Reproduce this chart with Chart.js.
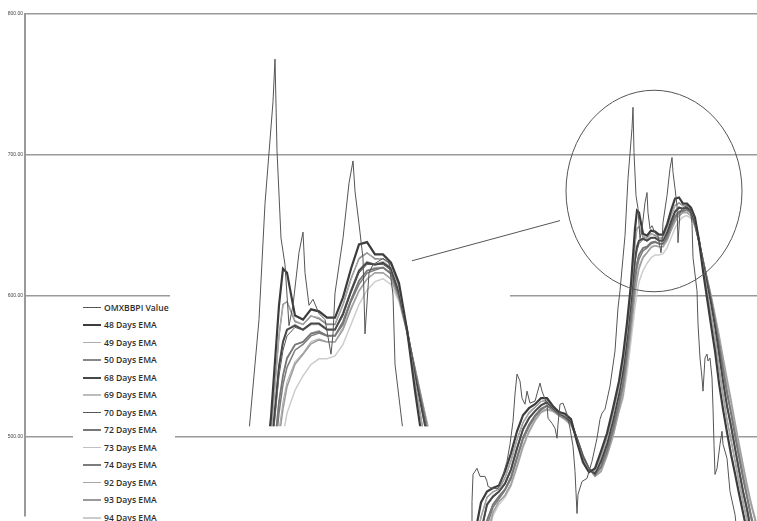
<!DOCTYPE html>
<html><head><meta charset="utf-8">
<script src="https://cdn.jsdelivr.net/npm/chart.js@4/dist/chart.umd.min.js"></script>
<style>
html,body{margin:0;padding:0;background:#fff;}
#wrap{position:relative;width:757px;height:521px;overflow:hidden;}
#legend{position:absolute;left:73px;top:299px;width:102px;height:222px;background:#fff;font-family:"Open Sans",Lato,sans-serif;font-weight:600;font-size:8.6px;color:#2e2e2e;}
.item{height:17.5px;display:flex;align-items:center;padding-left:10px;white-space:nowrap;}
.swatch{width:18px;margin-right:3px;flex:none;}
</style></head><body>
<div id="wrap"><canvas id="c" width="757" height="521"></canvas><div id="legend"></div></div>
<script>
// ---- data ----
const seriesLabels = ["OMXBBPI Value","48 Days EMA","49 Days EMA","50 Days EMA","68 Days EMA","69 Days EMA","70 Days EMA","72 Days EMA","73 Days EMA","74 Days EMA","92 Days EMA","93 Days EMA","94 Days EMA"];
const yTicks = [500,600,700,800];

const valueDays = [223,223.5,224,226,227.5,230,231,231.5,233.5,236.5,238.5,241,242.5,244,245,246,247.5,248.5,250,251,252.5,255,257.5,258.5,261,261.5,263.5,265,266,266.5,267.5,269,271,272.5,274,275,276,276.5,278.5,281,283.5,286,287.5,288.5,290,292.5,295,296.5,297.5,299,300,301.5,303.5,304,304.5,305.5,306.5,307.5,308.5,310,311,311.5,312.5,313.5,315,316.5,318,318.5,319,321,322.5,323.5,324,325,326,326.5,327.5,328.5,331,332.5,333.5,334,336,336.5,337.5,338.5,339,340,341,341.5,342.5,343.5,344,344.5,345,346,347.5,348.5,349,351,352.5,355,356.5];
const omxValues = [425.6,454.1,473.3,477.6,471.9,471.9,468.3,464.8,463.4,463.4,470.5,482.6,494.7,511.0,530.3,544.5,539.5,527.4,523.1,532.4,523.9,525.3,538.1,532.4,523.1,513.2,509.6,506.1,499.0,508.9,523.1,523.9,516.0,506.1,493.3,475.5,445.6,459.1,468.3,470.5,482.6,499.0,512.5,516.7,519.6,536.0,560.9,591.5,603.6,627.1,642.7,683.3,718.9,733.8,701.8,671.2,661.9,640.6,647.7,666.2,673.3,659.1,647.7,649.8,644.8,642.7,630.6,637.7,652.0,671.2,690.4,698.2,687.6,676.2,664.1,637.7,659.1,661.9,664.1,662.6,651.3,627.1,603.6,580.1,555.9,541.7,532.4,555.9,558.7,553.8,555.9,541.7,520.3,494.7,473.3,477.6,494.7,503.9,494.7,484.7,461.2,444.9,425.6];

const emaDays = [225,228,231,234,237,240,243,246,249,252,255,258,261,264,267,270,273,276,279,282,285,288,291,294,297,299,301,303,305,306,307,309,311,313,315,317,319,321,323,325,327,329,331,333,335,337,339,341,343,345,347,349,351,353,355,357,359,361,363,365,367];
const ema48 = [431.3,453.4,461.2,463.7,465.5,475.5,488.3,503.9,515.3,520.3,523.1,527.4,527.4,521.7,517.5,516.4,512.5,496.1,481.9,474.8,477.6,489.7,502.5,520.3,539.5,557.3,580.8,608.6,647.7,660.5,659.1,644.1,642.7,646.3,645.6,643.4,643.4,650.5,660.5,669.0,669.8,665.5,665.5,662.6,655.5,639.2,617.8,598.6,579.4,560.9,538.1,519.6,503.2,487.6,474.0,459.8,446.3,432.8,418.5,404.3,390.1];
const ema49 = [421.4,443.1,456.6,460.7,463.4,471.2,482.6,497.9,510.4,516.8,520.7,524.9,526.0,521.0,517.0,515.4,511.8,497.2,483.7,475.9,475.8,486.2,498.6,515.7,534.9,552.0,575.1,602.6,637.0,647.7,649.2,642.4,641.0,643.8,643.5,641.3,641.3,647.7,656.6,664.4,666.2,663.7,664.1,661.6,653.8,639.2,620.7,604.0,587.2,569.8,548.8,529.6,512.5,497.6,482.9,468.0,453.8,440.6,425.7,411.4,397.2];
const ema50 = [421,443,457,461,463,471,483,498,510,517,521,525,526,521,517,515,512,497,484,476,476,486,499,516,535,552,575,603,637,648,649,642,641,644,643,641,641,648,657,664,666,664,664,662,654,639,621,604,587,570,549,530,512,498,483,468,454,441,426,411,397];
const ema68 = [411.4,432.8,452.0,457.7,461.2,466.9,476.9,491.8,505.4,513.2,518.2,522.4,524.6,520.3,516.4,514.3,511.0,498.2,485.4,476.9,474.0,482.6,494.7,511.0,530.3,546.6,569.4,596.5,626.3,634.9,639.2,640.6,639.2,641.3,641.3,639.2,639.2,644.8,652.7,659.8,662.6,661.9,662.6,660.5,652.0,639.2,623.5,609.3,595.0,578.7,559.4,539.5,521.7,507.5,491.8,476.2,461.2,448.4,432.8,418.5,404.3];
const ema69 = [411,433,452,458,461,467,477,492,505,513,518,522,525,520,516,514,511,498,485,477,474,483,495,511,530,547,569,597,626,635,639,641,639,641,641,639,639,645,653,660,663,662,663,661,652,639,624,609,595,579,559,540,522,508,492,476,461,448,433,419,404];
const ema70 = [410,432,451,457,461,466,476,491,505,513,518,522,524,520,516,514,511,498,485,477,474,482,494,510,529,545,567,594,623,632,637,640,639,641,641,639,639,644,652,659,662,662,662,660,652,639,624,610,596,580,561,541,523,509,493,478,463,450,435,421,407];
const ema72 = [400.8,420.4,440.6,452.0,457.7,462.7,471.6,485.4,499.4,508.6,515.0,520.0,522.1,519.3,515.7,513.4,509.8,498.6,486.2,477.3,473.0,479.1,490.8,505.7,524.3,538.1,560.5,585.8,613.9,623.2,629.2,633.9,634.9,637.8,638.5,637.1,637.1,642.0,649.5,656.3,659.8,660.5,660.9,658.7,650.9,638.8,624.6,611.1,597.5,582.3,565.5,547.7,531.0,516.4,500.7,485.5,470.5,457.0,442.8,430.3,416.8];
const ema73 = [401,420,441,452,458,463,472,485,499,509,515,520,522,519,516,513,510,499,486,477,473,479,491,506,524,538,561,586,614,623,629,634,635,638,639,637,637,642,650,656,660,661,661,659,651,639,625,611,598,582,566,548,531,516,501,486,471,457,443,430,417];
const ema74 = [398,417,437,450,456,462,470,484,498,507,514,519,522,519,516,513,510,499,486,477,473,478,489,504,522,536,558,582,610,620,626,632,634,637,638,637,637,641,649,655,659,660,661,659,651,639,625,612,598,583,567,550,533,518,503,488,473,459,445,433,420];
const ema92 = [391,409,430,447,454,459,467,480,494,504,512,518,520,518,515,513,509,499,487,478,472,476,488,501,519,531,553,577,604,614,621,628,631,635,636,635,635,640,647,653,657,659,659,657,650,638,626,613,600,586,571,555,539,524,508,493,478,464,451,440,428];
const ema93 = [390.1,407.9,429.2,446.3,454.1,458.4,466.2,479.0,493.3,503.9,511.8,517.5,519.6,518.2,515.0,512.5,508.6,499.0,486.9,477.6,471.9,475.5,486.9,500.4,518.2,529.6,551.6,575.1,601.4,611.4,619.2,627.1,630.6,634.2,635.6,634.9,634.9,639.2,646.3,652.7,656.9,659.1,659.1,656.9,649.8,638.4,625.6,612.8,600.0,585.8,571.5,555.9,540.2,525.3,509.6,494.7,479.7,465.5,452.7,442.0,429.2];
const ema94 = [388,405,427,444,452,457,465,478,492,503,511,517,519,518,515,512,508,499,487,478,472,475,486,500,518,527,545,568,592,602,610,618,623,627,629,629,630,634,641,648,653,656,657,655,649,638,626,613,601,587,573,557,542,527,511,496,481,467,454,443,431];

// annotation positions in data units (days, index value)
const zoomEllipse = {day: 314.5, value: 674.4, rDays: 44, rValue: 71.5};
const connector = {fromDay: 193.5, fromValue: 624.9, toDay: 267.5, toValue: 653.4};
const insetBox = {day0: 100, day1: 222, value0: 507.5, value1: 800};
const blankBox = {day0: 72.5, day1: 242.5, value0: 505, value1: 665};
const insetScale = {xMin: 241.5, xMax: 424.5, yMin: 574.0, yMax: 749.6};

// ---- styles ----
const lineStyles = [
 {c:'#555555', w:1},
 {c:'#3c3c3c', w:2.2},
 {c:'#acacac', w:1},
 {c:'#888888', w:1.5},
 {c:'#484848', w:2},
 {c:'#bdbdbd', w:1.5},
 {c:'#575757', w:1},
 {c:'#777777', w:1.8},
 {c:'#c0c0c0', w:1},
 {c:'#7c7c7c', w:1.5},
 {c:'#a8a8a8', w:1},
 {c:'#9a9a9a', w:1.5},
 {c:'#cccccc', w:1.5}
];

const seriesValues = [omxValues, ema48, ema49, ema50, ema68, ema69, ema70, ema72, ema73, ema74, ema92, ema93, ema94];
const seriesDays = seriesValues.map((v,i) => i === 0 ? valueDays : emaDays);

function toPoints(days, vals){ return days.map((d,i) => ({x:d, y:vals[i]})); }

const datasets = [];
seriesValues.forEach((vals,i) => {
  datasets.push({label: seriesLabels[i], data: toPoints(seriesDays[i], vals), borderColor: lineStyles[i].c, borderWidth: lineStyles[i].w,
    pointRadius:0, tension:0, fill:false, clip:false, xAxisID:'x', yAxisID:'y'});
});
seriesValues.forEach((vals,i) => {
  datasets.push({label: seriesLabels[i] + ' (detail)', data: toPoints(seriesDays[i], vals), borderColor: lineStyles[i].c, borderWidth: lineStyles[i].w,
    pointRadius:0, tension:0, fill:false, clip:false, xAxisID:'x2', yAxisID:'y2', inset:true});
});

const overlay = {
  id:'overlay',
  beforeDatasetsDraw(chart){
    const {ctx, scales:{x,y}} = chart;
    const x0 = x.getPixelForValue(blankBox.day0), x1 = x.getPixelForValue(blankBox.day1);
    const y0 = y.getPixelForValue(blankBox.value1), y1 = y.getPixelForValue(blankBox.value0);
    ctx.save(); ctx.fillStyle = '#fff'; ctx.fillRect(x0, y0, x1-x0, y1-y0); ctx.restore();
  },
  beforeDatasetDraw(chart, args){
    const ds = chart.data.datasets[args.index];
    if (!ds.inset) return;
    const {ctx, scales:{x,y}} = chart;
    const x0 = x.getPixelForValue(insetBox.day0), x1 = x.getPixelForValue(insetBox.day1);
    const y0 = y.getPixelForValue(insetBox.value1), y1 = y.getPixelForValue(insetBox.value0);
    ctx.save(); ctx.beginPath(); ctx.rect(x0, y0, x1-x0, y1-y0); ctx.clip();
  },
  afterDatasetDraw(chart, args){
    const ds = chart.data.datasets[args.index];
    if (ds.inset) chart.ctx.restore();
  },
  afterDatasetsDraw(chart){
    const {ctx, scales:{x,y}} = chart;
    ctx.save();
    ctx.strokeStyle = '#555'; ctx.lineWidth = 1;
    const cx = x.getPixelForValue(zoomEllipse.day), cy = y.getPixelForValue(zoomEllipse.value);
    const rx = x.getPixelForValue(zoomEllipse.day + zoomEllipse.rDays) - cx;
    const ry = y.getPixelForValue(zoomEllipse.value - zoomEllipse.rValue) - cy;
    ctx.beginPath(); ctx.ellipse(cx, cy, rx, ry, 0, 0, Math.PI*2); ctx.stroke();
    ctx.beginPath();
    ctx.moveTo(x.getPixelForValue(connector.fromDay), y.getPixelForValue(connector.fromValue));
    ctx.lineTo(x.getPixelForValue(connector.toDay), y.getPixelForValue(connector.toValue));
    ctx.stroke();
    ctx.restore();
  }
};

new Chart(document.getElementById('c'), {
  type:'line',
  data:{datasets},
  options:{
    responsive:false, animation:false, devicePixelRatio:1,
    layout:{padding:{top:14, left:0, right:0, bottom:0}},
    plugins:{legend:{display:false}, tooltip:{enabled:false}},
    scales:{
      x:{type:'linear', min:0, max:366, display:false},
      x2:{type:'linear', min:insetScale.xMin, max:insetScale.xMax, display:false},
      y2:{type:'linear', min:insetScale.yMin, max:insetScale.yMax, display:false},
      y:{type:'linear', position:'left', min:443.8, max:800,
        afterBuildTicks: s => { s.ticks = yTicks.map(v => ({value:v})); },
        afterFit: s => { s.width = 25; },
        ticks:{font:{size:5, family:'Liberation Sans'}, color:'#444', padding:2, callback: v => Number(v).toFixed(2)},
        grid:{color:'#9a9a9a', lineWidth:1.5, drawTicks:false},
        border:{color:'#9a9a9a', width:2}
      }
    }
  },
  plugins:[overlay]
});

const legend = document.getElementById('legend');
seriesLabels.forEach((lab,i) => {
  const it = document.createElement('div'); it.className = 'item';
  const sw = document.createElement('span'); sw.className = 'swatch';
  sw.style.height = Math.max(1, Math.round(lineStyles[i].w)) + 'px';
  sw.style.background = lineStyles[i].c;
  const tx = document.createElement('span'); tx.textContent = lab;
  it.appendChild(sw); it.appendChild(tx); legend.appendChild(it);
});
</script>
</body></html>
